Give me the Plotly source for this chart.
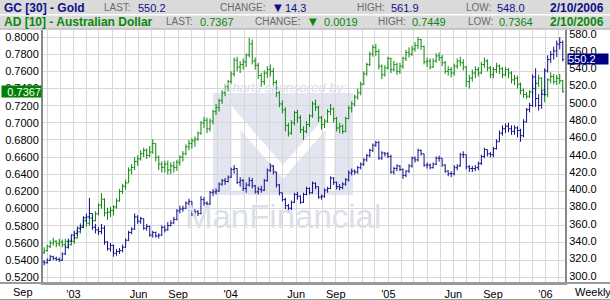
import pandas as pd
import plotly.graph_objects as go

# ---------------- data ----------------
week_end = "2006-02-10"
n_weeks = 173
dates = pd.date_range(end=week_end, periods=n_weeks, freq="W-FRI")

gold_open0 = 316
gold_close = [
    315, 318, 322, 320, 319, 318, 325, 333, 340, 347,
    349, 355, 356, 367, 368, 372, 356, 353, 351, 355,
    339, 331, 335, 326, 328, 329, 333, 341, 350, 354,
    368, 363, 366, 355, 357, 347, 350, 346, 347, 356,
    353, 358, 361, 365, 375, 377, 378, 384, 386, 371,
    374, 372, 388, 384, 383, 396, 397, 398, 406, 410,
    409, 414, 423, 424, 408, 410, 401, 405, 410, 404,
    397, 400, 399, 410, 422, 427, 420, 405, 396, 388,
    381, 378, 385, 394, 392, 385, 394, 401, 396, 407,
    403, 391, 392, 399, 401, 413, 408, 403, 402, 406,
    411, 419, 421, 420, 425, 429, 434, 439, 445, 451,
    454, 436, 442, 441, 438, 420, 424, 427, 423, 416,
    421, 427, 436, 434, 445, 441, 428, 428, 425, 429,
    436, 436, 428, 421, 418, 418, 425, 427, 440, 440,
    426, 424, 424, 425, 430, 438, 446, 441, 440, 447,
    455, 465, 470, 473, 470, 467, 471, 468, 462, 478,
    492, 497, 530, 505, 497, 510, 537, 550, 556, 560,
    568, 570, 550.2]
gold_high = [
    318, 320, 324, 323, 322, 321, 327, 335, 343, 348,
    352, 357, 359, 369, 372, 390, 372, 360, 356, 360,
    358, 340, 338, 336, 331, 332, 336, 343, 352, 356,
    372, 370, 368, 366, 360, 358, 352, 351, 349, 358,
    358, 362, 364, 368, 377, 381, 381, 386, 389, 386,
    377, 376, 392, 391, 386, 398, 400, 401, 408, 412,
    413, 416, 425, 428, 424, 414, 412, 408, 414, 413,
    405, 403, 404, 412, 424, 430, 428, 420, 406, 396,
    390, 383, 387, 396, 397, 393, 396, 403, 402, 409,
    408, 403, 394, 401, 403, 415, 414, 409, 406, 408,
    413, 422, 424, 423, 427, 431, 436, 441, 447, 453,
    456, 456, 444, 443, 443, 440, 426, 429, 428, 424,
    422, 429, 438, 438, 447, 446, 441, 431, 430, 431,
    438, 439, 436, 429, 422, 421, 428, 429, 442, 444,
    440, 428, 427, 428, 432, 440, 448, 446, 443, 449,
    458, 468, 474, 476, 477, 474, 474, 473, 470, 481,
    494, 500, 533, 540, 510, 514, 540, 555, 560, 565,
    572, 576, 572]
gold_low = [
    312, 314, 317, 318, 317, 316, 317, 324, 332, 339,
    342, 346, 352, 355, 362, 366, 353, 349, 347, 348,
    336, 329, 328, 322, 323, 325, 327, 332, 340, 348,
    353, 360, 360, 353, 352, 345, 344, 344, 343, 346,
    350, 352, 357, 360, 364, 372, 374, 377, 380, 369,
    368, 369, 371, 381, 378, 382, 392, 394, 397, 404,
    405, 408, 413, 418, 406, 403, 398, 396, 403, 401,
    395, 394, 396, 398, 409, 420, 417, 402, 393, 386,
    377, 373, 376, 384, 388, 383, 384, 393, 394, 395,
    400, 389, 388, 390, 396, 400, 405, 400, 399, 400,
    404, 409, 416, 417, 418, 423, 427, 432, 437, 443,
    449, 434, 434, 438, 436, 418, 417, 421, 421, 412,
    414, 419, 425, 431, 432, 439, 426, 424, 423, 424,
    428, 432, 426, 419, 415, 414, 416, 422, 426, 436,
    423, 420, 420, 421, 422, 428, 436, 438, 437, 437,
    446, 455, 462, 465, 466, 463, 463, 460, 455, 460,
    477, 489, 495, 495, 491, 493, 508, 535, 546, 550,
    553, 562, 548]

ad_open0 = 0.549
ad_close = [
    0.551, 0.556, 0.560, 0.562, 0.559, 0.561, 0.558, 0.562, 0.558, 0.562,
    0.566, 0.573, 0.580, 0.586, 0.583, 0.589, 0.586, 0.594, 0.604, 0.611,
    0.595, 0.596, 0.598, 0.602, 0.609, 0.620, 0.626, 0.630, 0.645, 0.648,
    0.655, 0.658, 0.664, 0.668, 0.662, 0.666, 0.676, 0.660, 0.652, 0.648,
    0.652, 0.645, 0.650, 0.648, 0.654, 0.660, 0.664, 0.672, 0.676, 0.679,
    0.681, 0.688, 0.700, 0.703, 0.693, 0.702, 0.713, 0.718, 0.726, 0.735,
    0.742, 0.748, 0.757, 0.773, 0.765, 0.768, 0.771, 0.779, 0.792, 0.772,
    0.767, 0.755, 0.748, 0.758, 0.762, 0.760, 0.747, 0.735, 0.722, 0.715,
    0.697, 0.688, 0.700, 0.712, 0.706, 0.692, 0.690, 0.698, 0.708, 0.722,
    0.718, 0.706, 0.698, 0.702, 0.713, 0.716, 0.705, 0.694, 0.696, 0.690,
    0.705, 0.717, 0.722, 0.730, 0.735, 0.745, 0.757, 0.768, 0.780, 0.788,
    0.783, 0.766, 0.756, 0.764, 0.775, 0.762, 0.768, 0.760, 0.766, 0.775,
    0.782, 0.780, 0.786, 0.790, 0.797, 0.789, 0.771, 0.772, 0.765, 0.772,
    0.778, 0.776, 0.770, 0.760, 0.762, 0.758, 0.766, 0.772, 0.770, 0.765,
    0.748, 0.752, 0.758, 0.762, 0.758, 0.768, 0.772, 0.764, 0.756, 0.762,
    0.766, 0.763, 0.756, 0.762, 0.758, 0.750, 0.752, 0.745, 0.738, 0.733,
    0.731, 0.736, 0.740, 0.746, 0.752, 0.738, 0.733, 0.750, 0.754, 0.748,
    0.752, 0.749, 0.7367]
ad_high = [
    0.555, 0.558, 0.563, 0.566, 0.563, 0.565, 0.564, 0.565, 0.563, 0.565,
    0.568, 0.576, 0.583, 0.589, 0.590, 0.592, 0.592, 0.597, 0.606, 0.618,
    0.612, 0.601, 0.602, 0.604, 0.612, 0.623, 0.629, 0.634, 0.648, 0.652,
    0.660, 0.662, 0.668, 0.671, 0.670, 0.673, 0.681, 0.676, 0.662, 0.655,
    0.656, 0.656, 0.654, 0.655, 0.657, 0.662, 0.667, 0.675, 0.680, 0.682,
    0.684, 0.690, 0.702, 0.707, 0.706, 0.705, 0.715, 0.722, 0.728, 0.738,
    0.745, 0.750, 0.760, 0.776, 0.777, 0.772, 0.775, 0.781, 0.799, 0.797,
    0.776, 0.770, 0.758, 0.761, 0.766, 0.768, 0.764, 0.750, 0.737, 0.726,
    0.718, 0.700, 0.703, 0.714, 0.715, 0.709, 0.696, 0.702, 0.710, 0.725,
    0.727, 0.720, 0.708, 0.705, 0.716, 0.722, 0.718, 0.707, 0.700, 0.698,
    0.707, 0.720, 0.725, 0.733, 0.740, 0.748, 0.760, 0.770, 0.783, 0.791,
    0.792, 0.786, 0.768, 0.767, 0.777, 0.776, 0.772, 0.770, 0.770, 0.777,
    0.785, 0.788, 0.790, 0.794, 0.800, 0.798, 0.790, 0.776, 0.775, 0.775,
    0.781, 0.782, 0.779, 0.772, 0.766, 0.765, 0.769, 0.775, 0.777, 0.774,
    0.766, 0.756, 0.762, 0.766, 0.765, 0.771, 0.776, 0.774, 0.766, 0.765,
    0.770, 0.768, 0.765, 0.765, 0.764, 0.760, 0.756, 0.755, 0.747, 0.740,
    0.736, 0.738, 0.745, 0.750, 0.756, 0.753, 0.740, 0.752, 0.759, 0.757,
    0.756, 0.757, 0.750]
ad_low = [
    0.547, 0.550, 0.554, 0.557, 0.555, 0.556, 0.555, 0.556, 0.553, 0.557,
    0.559, 0.565, 0.571, 0.578, 0.579, 0.580, 0.582, 0.585, 0.592, 0.600,
    0.591, 0.587, 0.590, 0.592, 0.600, 0.608, 0.617, 0.622, 0.630, 0.640,
    0.645, 0.650, 0.656, 0.660, 0.658, 0.660, 0.664, 0.655, 0.645, 0.642,
    0.642, 0.640, 0.640, 0.642, 0.644, 0.650, 0.655, 0.662, 0.668, 0.670,
    0.672, 0.679, 0.686, 0.694, 0.688, 0.690, 0.698, 0.709, 0.713, 0.722,
    0.731, 0.737, 0.745, 0.754, 0.760, 0.758, 0.762, 0.765, 0.776, 0.768,
    0.762, 0.751, 0.742, 0.744, 0.752, 0.754, 0.742, 0.730, 0.718, 0.711,
    0.690, 0.684, 0.686, 0.697, 0.700, 0.688, 0.680, 0.688, 0.695, 0.706,
    0.714, 0.701, 0.692, 0.694, 0.700, 0.709, 0.700, 0.690, 0.688, 0.687,
    0.689, 0.704, 0.712, 0.719, 0.727, 0.732, 0.744, 0.755, 0.766, 0.777,
    0.778, 0.762, 0.751, 0.754, 0.762, 0.758, 0.760, 0.756, 0.757, 0.763,
    0.772, 0.776, 0.778, 0.783, 0.786, 0.785, 0.768, 0.765, 0.762, 0.764,
    0.770, 0.772, 0.766, 0.757, 0.755, 0.753, 0.755, 0.763, 0.766, 0.761,
    0.742, 0.740, 0.748, 0.752, 0.754, 0.757, 0.764, 0.760, 0.752, 0.752,
    0.758, 0.757, 0.752, 0.754, 0.752, 0.746, 0.744, 0.740, 0.733, 0.729,
    0.728, 0.729, 0.733, 0.738, 0.742, 0.734, 0.724, 0.730, 0.746, 0.745,
    0.744, 0.745, 0.735]

# weekly bars: open = previous week's close
gold_open = [gold_open0] + gold_close[:-1]
ad_open = [ad_open0] + ad_close[:-1]

month_ticks = pd.date_range("2002-11-01", "2006-02-01", freq="MS")
month_names = {"2003-01": "'03", "2003-06": "Jun", "2003-09": "Sep",
               "2004-01": "'04", "2004-06": "Jun", "2004-09": "Sep",
               "2005-01": "'05", "2005-06": "Jun", "2005-09": "Sep",
               "2006-01": "'06"}
month_text = [month_names.get(d.strftime("%Y-%m"), "") for d in month_ticks]
first_label = "Sep"
period_label = "Weekly"

gold_info = dict(name="GC [30] - Gold", last="550.2", change="14.3",
                 high="561.9", low="548.0", date="2/10/2006")
ad_info = dict(name="AD [10] - Australian Dollar", last="0.7367", change="0.0019",
               high="0.7449", low="0.7364", date="2/10/2006")

# ---------------- styling ----------------
NAVY = "#0f0f8a"
GREEN = "#0a880a"
W, H = 610, 300
L, R, T, B = 43, 45, 30, 17
PW, PH = W - L - R, H - T - B
FONT = "Arial, 'Liberation Sans', sans-serif"


def px(x):
    return (x - L) / PW


def py(y):
    return (H - B - y) / PH


fig = go.Figure()
fig.add_trace(go.Ohlc(
    x=dates, open=ad_open, high=ad_high, low=ad_low, close=ad_close,
    increasing=dict(line=dict(color=GREEN, width=1)),
    decreasing=dict(line=dict(color=GREEN, width=1)),
    tickwidth=0.45, yaxis="y", hoverinfo="skip", showlegend=False))
fig.add_trace(go.Ohlc(
    x=dates, open=gold_open, high=gold_high, low=gold_low, close=gold_close,
    increasing=dict(line=dict(color=NAVY, width=1)),
    decreasing=dict(line=dict(color=NAVY, width=1)),
    tickwidth=0.45, yaxis="y2", hoverinfo="skip", showlegend=False))

shapes = []
# header rows
shapes.append(dict(type="rect", xref="paper", yref="paper", x0=px(0), x1=px(W),
                   y0=py(14), y1=py(0), fillcolor="#dadada", line=dict(width=0), layer="above"))
shapes.append(dict(type="rect", xref="paper", yref="paper", x0=px(0), x1=px(W),
                   y0=py(28.5), y1=py(15.5), fillcolor="#dadada", line=dict(width=0), layer="above"))
shapes.append(dict(type="line", xref="paper", yref="paper", x0=px(0), x1=px(W),
                   y0=py(29), y1=py(29), line=dict(color="#9a9a9a", width=1), layer="above"))
# bottom frame lines
shapes.append(dict(type="line", xref="paper", yref="paper", x0=px(0), x1=px(W),
                   y0=py(283), y1=py(283), line=dict(color="#9a9a9a", width=2), layer="above"))
shapes.append(dict(type="line", xref="paper", yref="paper", x0=px(0), x1=px(W),
                   y0=py(299.5), y1=py(299.5), line=dict(color="#9a9a9a", width=1), layer="above"))
# watermark logo
WM = "#e3e6f0"
shapes.append(dict(type="rect", xref="paper", yref="paper", x0=px(213), x1=px(353),
                   y0=py(195), y1=py(93), fillcolor=WM, line=dict(width=0), layer="below"))
m_pts = [(236, 192), (236, 118), (283, 172), (330, 118), (330, 192)]
m_path = "M " + " L ".join(f"{px(a):.4f},{py(b):.4f}" for a, b in m_pts)
shapes.append(dict(type="path", xref="paper", yref="paper", path=m_path,
                   line=dict(color="white", width=9), layer="below"))

ann = []


def txt(x, y, s, color, size=11, bold=False, anchor="left", family=FONT, **kw):
    ann.append(dict(xref="paper", yref="paper", x=px(x), y=py(y), text=(f"<b>{s}</b>" if bold else s),
                    showarrow=False, xanchor=anchor, yanchor="middle",
                    font=dict(color=color, size=size, family=family), **kw))


GRAY = "#6a6a6a"
for info, color, yrow, xs in [
    (gold_info, NAVY, 7.5, dict(lastv=136, chgv=283, tri=272, hiv=389, lov=495, chg=268)),
    (ad_info, GREEN, 22, dict(lastv=198, chgv=322, tri=307, hiv=410, lov=497, chg=303)),
]:
    txt(2, yrow, info["name"], color, size=12, bold=True)
    txt(xs["lastv"] - 3, yrow, "LAST:", GRAY, size=10, anchor="right")
    txt(xs["lastv"], yrow, info["last"], color)
    txt(xs["chg"], yrow, "CHANGE:", GRAY, size=10, anchor="right")
    txt(xs["tri"], yrow, "▼", color, size=10, family="DejaVu Sans")
    txt(xs["chgv"], yrow, info["change"], color)
    txt(xs["hiv"] - 2, yrow, "HIGH:", GRAY, size=10, anchor="right")
    txt(xs["hiv"], yrow, info["high"], color)
    txt(xs["lov"] - 2, yrow, "LOW:", GRAY, size=10, anchor="right")
    txt(xs["lov"], yrow, info["low"], color)
    txt(606, yrow, info["date"], color, size=12, bold=True, anchor="right")

# x labels outside the axis range
txt(23, 292, first_label, "black", anchor="center")
txt(593, 292, period_label, "black", anchor="center")

# watermark text
txt(285, 87, "<i>Charts sponsored by:</i>", "#d9dce8", size=13, anchor="center")
txt(283, 216, "ManFinancial", "#dcdfea", size=33, anchor="center",
    family="'Liberation Sans Narrow', 'Arial Narrow', Arial, sans-serif")

# last value boxes
ann.append(dict(xref="paper", yref="y", x=0, y=ad_close[-1], xanchor="right", yanchor="middle",
                xshift=-1, text=f"{ad_close[-1]:.4f}", showarrow=False, bgcolor="#008000",
                width=39, height=11, align="right", borderpad=0,
                font=dict(color="white", size=11, family=FONT)))
ann.append(dict(xref="paper", yref="y2", x=1, y=gold_close[-1], xanchor="left", yanchor="middle",
                xshift=2, text=f"{gold_close[-1]:.1f}", showarrow=False, bgcolor="#000080",
                width=40, height=10, align="left", borderpad=0,
                font=dict(color="white", size=11, family=FONT)))

fig.update_layout(
    width=W, height=H,
    margin=dict(l=L, r=R, t=T, b=B, pad=0, autoexpand=False),
    paper_bgcolor="white", plot_bgcolor="white",
    showlegend=False,
    font=dict(family=FONT, size=11, color="black"),
    xaxis=dict(type="date", range=["2002-10-22 05:00", "2006-02-15 05:00"],
               tickmode="array", tickvals=month_ticks, ticktext=month_text,
               showgrid=True, gridcolor="#d8d8d8", gridwidth=1,
               showline=True, linecolor="#9a9a9a", linewidth=2,
               ticks="", rangeslider=dict(visible=False), fixedrange=True,
               automargin=False, tickfont=dict(size=11, color="black")),
    yaxis=dict(range=[0.51336, 0.80816], tick0=0.52, dtick=0.02, tickformat=".4f",
               showgrid=True, gridcolor="#d8d8d8", gridwidth=1, zeroline=False,
               showline=True, linecolor="#888888", linewidth=2, ticks="",
               automargin=False, tickfont=dict(size=11, color="black")),
    yaxis2=dict(range=[291.55, 584.3], tick0=300, dtick=20, tickformat=".1f",
                overlaying="y", side="right", showgrid=False, zeroline=False,
                showline=True, linecolor="#888888", linewidth=2, ticks="",
                automargin=False, tickfont=dict(size=11, color="black")),
    shapes=shapes,
    annotations=ann,
)

fig.write_html("out.html")
